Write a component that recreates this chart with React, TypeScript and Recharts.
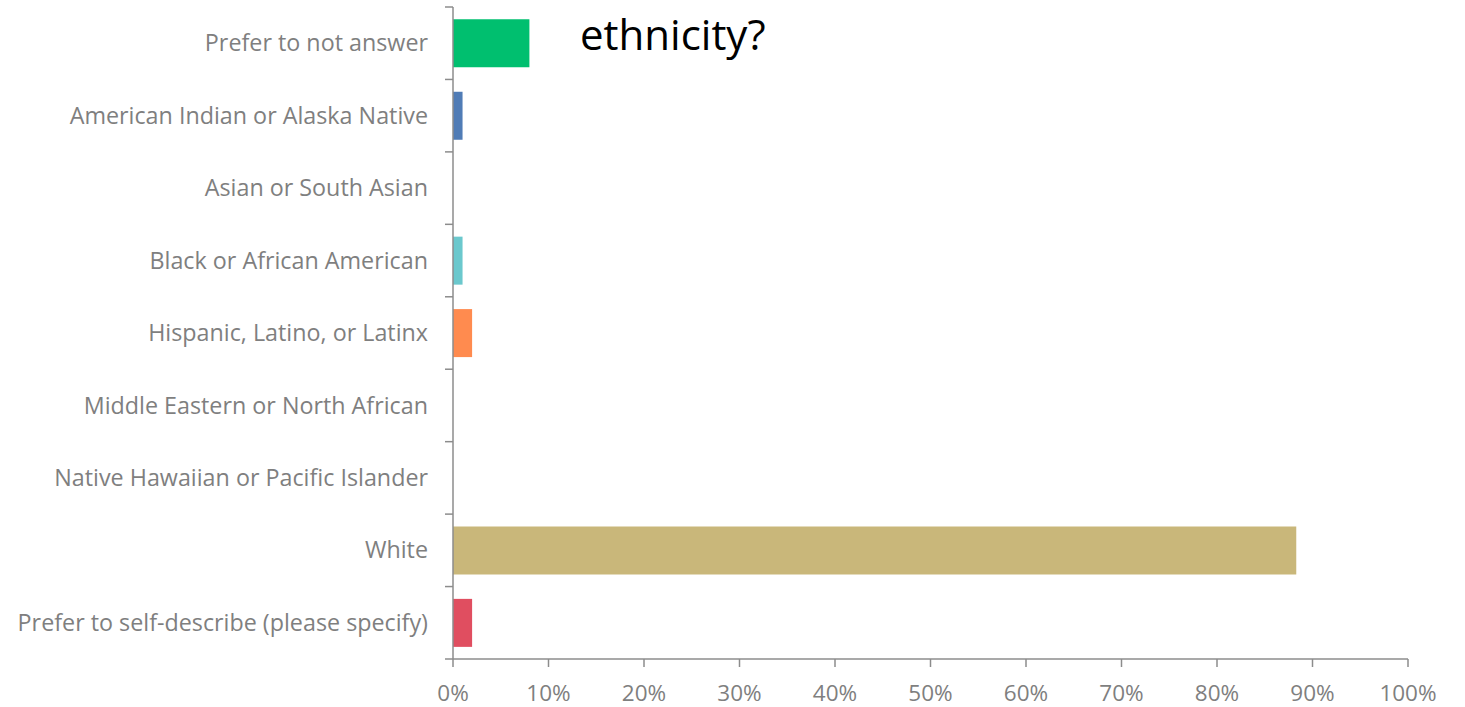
import { BarChart, Bar, XAxis, YAxis, Cell } from 'recharts';

// answer options, top to bottom
const categories = [
  'Prefer to not answer',
  'American Indian or Alaska Native',
  'Asian or South Asian',
  'Black or African American',
  'Hispanic, Latino, or Latinx',
  'Middle Eastern or North African',
  'Native Hawaiian or Pacific Islander',
  'White',
  'Prefer to self-describe (please specify)',
];

// share of respondents, %
const shares = [8, 1, 0, 1, 2, 0, 0, 88.3, 2];

const barColors = [
  '#00BF6F',
  '#507CB6',
  '#6BC8CD',
  '#6BC8CD',
  '#FF8B4F',
  '#7D5BA6',
  '#DAC400',
  '#C9B77A',
  '#E04E60',
];

const xTicks = [0, 10, 20, 30, 40, 50, 60, 70, 80, 90, 100];

const AXIS = '#8c8c8c';
const LABEL = '#7f7f7f';
const FONT = "'Open Sans', sans-serif";
const LABEL_GAP = 25;
const TICK_LEN = 8;

// category label plus Excel-style tick marks on the band boundaries
function CategoryTick(props: any) {
  const { x, y, payload, index, visibleTicksCount } = props;
  const axisX = x + LABEL_GAP;
  const half = payload.offset ?? 0;
  const last = index === (visibleTicksCount ?? categories.length) - 1;
  return (
    <g>
      <line
        x1={axisX - TICK_LEN}
        x2={axisX}
        y1={y - half}
        y2={y - half}
        stroke={AXIS}
        strokeWidth={1.5}
      />
      {last && (
        <line
          x1={axisX - TICK_LEN}
          x2={axisX}
          y1={y + half}
          y2={y + half}
          stroke={AXIS}
          strokeWidth={1.5}
        />
      )}
      <text
        x={x}
        y={y}
        dy='0.35em'
        textAnchor='end'
        fill={LABEL}
        fontSize={23.3}
        fontFamily={FONT}
      >
        {payload.value}
      </text>
    </g>
  );
}

export default function App() {
  const data = categories.map((name, i) => ({ name, share: shares[i] }));

  return (
    <div
      style={{
        position: 'absolute',
        left: 0,
        top: 0,
        width: 1465,
        height: 707,
        background: '#fff',
        fontFamily: FONT,
      }}
    >
      <BarChart
        width={1465}
        height={707}
        data={data}
        layout='vertical'
        margin={{ top: 7, right: 57, left: 0, bottom: 0 }}
        barCategoryGap='17%'
      >
        <XAxis
          type='number'
          domain={[0, 100]}
          ticks={xTicks}
          interval={0}
          height={48}
          tickFormatter={(v: number) => `${v}%`}
          tick={{ fill: LABEL, fontSize: 22.5, fontFamily: FONT }}
          tickSize={TICK_LEN}
          tickMargin={18}
          stroke={AXIS}
          axisLine={{ stroke: AXIS, strokeWidth: 1.5 }}
          tickLine={{ stroke: AXIS, strokeWidth: 1.5 }}
        />
        <YAxis
          type='category'
          dataKey='name'
          width={453}
          interval={0}
          axisLine={{ stroke: AXIS, strokeWidth: 1.5 }}
          tickLine={false}
          tickSize={0}
          tickMargin={LABEL_GAP}
          tick={<CategoryTick />}
        />
        <Bar dataKey='share' isAnimationActive={false}>
          {data.map((d, i) => (
            <Cell key={d.name} fill={barColors[i]} />
          ))}
        </Bar>
      </BarChart>
      <div
        style={{
          position: 'absolute',
          left: 580,
          top: 6,
          fontSize: 42,
          lineHeight: '56px',
          color: '#000',
          fontFamily: FONT,
        }}
      >
        ethnicity?
      </div>
    </div>
  );
}
